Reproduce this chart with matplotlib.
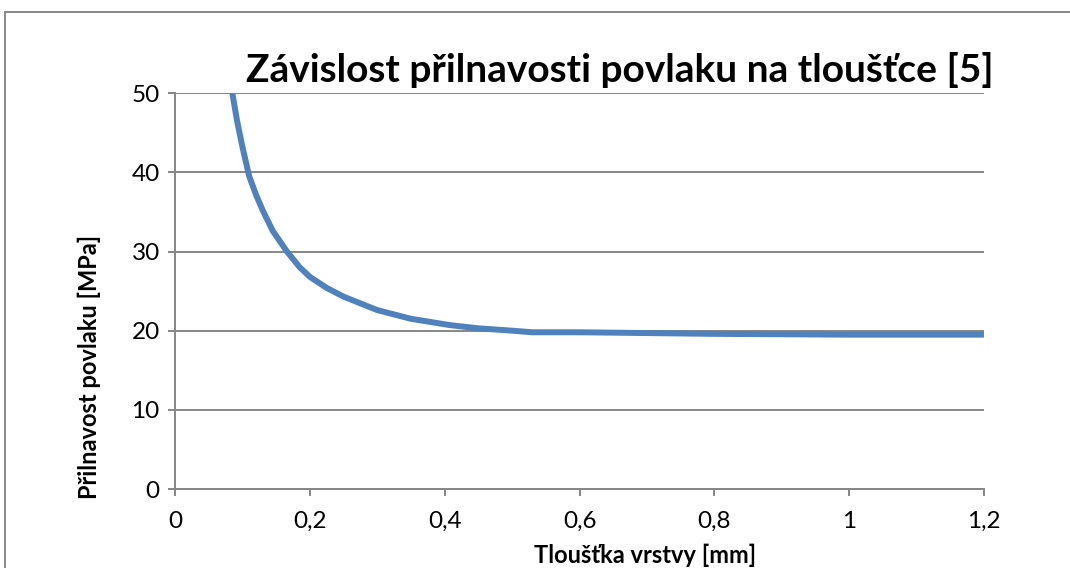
import matplotlib.pyplot as plt
from matplotlib.lines import Line2D
from matplotlib.ticker import FuncFormatter, MultipleLocator

# tloušťka vrstvy [mm] a přilnavost povlaku [MPa]
thickness = [0.085, 0.092, 0.100, 0.110, 0.120, 0.130, 0.145, 0.166, 0.185,
             0.200, 0.225, 0.250, 0.300, 0.350, 0.408, 0.450, 0.500, 0.530,
             0.600, 0.700, 0.800, 0.900, 1.000, 1.100, 1.200]
adhesion = [50.0, 46.5, 43.2, 39.5, 37.2, 35.2, 32.6, 30.0, 28.0,
            26.8, 25.4, 24.3, 22.6, 21.5, 20.7, 20.3, 20.0, 19.8,
            19.8, 19.7, 19.6, 19.55, 19.5, 19.5, 19.5]

title = "Závislost přilnavosti povlaku na tloušťce [5]"
xlabel = "Tloušťka vrstvy [mm]"
ylabel = "Přilnavost povlaku [MPa]"

plt.rcParams['font.family'] = ['Lato', 'DejaVu Sans']

fig = plt.figure(figsize=(10.7, 5.68), dpi=100)
ax = fig.add_axes([0.1636, 0.139, 0.756, 0.697])

grid_col = '#868686'
ax.plot(thickness, adhesion, color='#4F81BD', lw=4.3, solid_capstyle='butt', zorder=3)

ax.set_xlim(0, 1.2)
ax.set_ylim(0, 50)
ax.xaxis.set_major_locator(MultipleLocator(0.2))
ax.yaxis.set_major_locator(MultipleLocator(10))
ax.xaxis.set_major_formatter(FuncFormatter(lambda v, p: f"{v:g}".replace('.', ',')))
ax.yaxis.set_major_formatter(FuncFormatter(lambda v, p: f"{v:g}"))

ax.grid(axis='y', color=grid_col, lw=1.4)
ax.set_axisbelow(True)
for s in ['top', 'right']:
    ax.spines[s].set_visible(False)
for s in ['left', 'bottom']:
    ax.spines[s].set_color(grid_col)
    ax.spines[s].set_linewidth(1.4)
ax.tick_params(direction='out', length=5, width=1.4, color=grid_col, labelsize=17.5)
ax.tick_params(axis='x', pad=11)
ax.tick_params(axis='y', pad=6)

ax.set_xlabel(xlabel, fontsize=17, fontweight='bold')
ax.xaxis.set_label_coords(0.581, -0.139)
ax.set_ylabel(ylabel, fontsize=17, fontweight='bold')
ax.yaxis.set_label_coords(-0.092, 0.308)
fig.text(0.579, 0.877, title, fontsize=28, fontweight='bold', ha='center', va='center')

# rámeček grafu
fig.add_artist(Line2D([0.0047, 0.0047], [0, 0.979], color='#888888', lw=1.4))
fig.add_artist(Line2D([0.0047, 1], [0.979, 0.979], color='#888888', lw=1.4))

fig.savefig("out.png", dpi=100)
